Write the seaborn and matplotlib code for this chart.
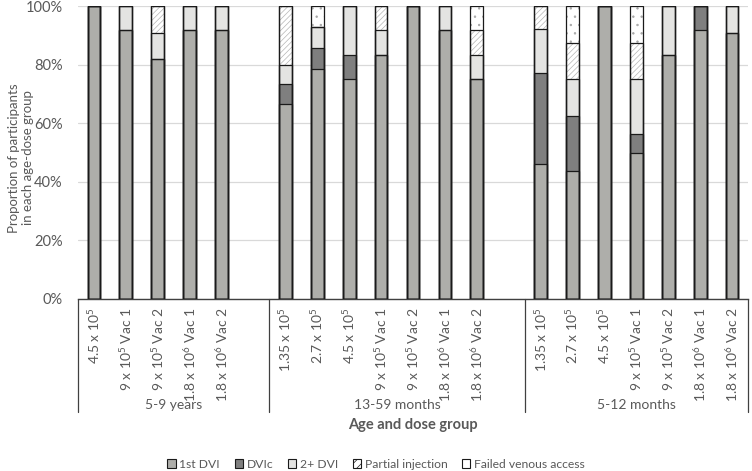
import matplotlib
matplotlib.use("Agg")
import matplotlib.pyplot as plt
import matplotlib.transforms as mtransforms
from matplotlib.patches import Patch
import numpy as np
import pandas as pd
import seaborn as sns

# ---------------- data ----------------
group_names = ["5-9 years", "13-59 months", "5-12 months"]
S5 = r"10$^{\mathregular{5}}$"
S6 = r"10$^{\mathregular{6}}$"
group_doses = [
    [f"4.5 x {S5}", f"9 x {S5} Vac 1", f"9 x {S5} Vac 2", f"1.8 x {S6} Vac 1", f"1.8 x {S6} Vac 2"],
    [f"1.35 x {S5}", f"2.7 x {S5}", f"4.5 x {S5}", f"9 x {S5} Vac 1", f"9 x {S5} Vac 2",
     f"1.8 x {S6} Vac 1", f"1.8 x {S6} Vac 2"],
    [f"1.35 x {S5}", f"2.7 x {S5}", f"4.5 x {S5}", f"9 x {S5} Vac 1", f"9 x {S5} Vac 2",
     f"1.8 x {S6} Vac 1", f"1.8 x {S6} Vac 2"],
]
series_names = ["1st DVI", "DVIc", "2+ DVI", "Partial injection", "Failed venous access"]
first_dvi = [100, 91.7, 81.8, 91.7, 91.7,
             66.7, 78.6, 75.0, 83.3, 100, 91.7, 75.0,
             46.2, 43.75, 100, 50.0, 83.3, 91.7, 90.9]
dvic = [0, 0, 0, 0, 0,
        6.7, 7.1, 8.3, 0, 0, 0, 0,
        30.8, 18.75, 0, 6.25, 0, 8.3, 0]
two_plus_dvi = [0, 8.3, 9.1, 8.3, 8.3,
                6.6, 7.1, 16.7, 8.4, 0, 8.3, 8.3,
                15.3, 12.5, 0, 18.75, 16.7, 0, 9.1]
partial_inj = [0, 0, 9.1, 0, 0,
               20.0, 0, 0, 8.3, 0, 0, 8.4,
               7.7, 12.5, 0, 12.5, 0, 0, 0]
failed_va = [0, 0, 0, 0, 0,
             0, 7.2, 0, 0, 0, 0, 8.3,
             0, 12.5, 0, 12.5, 0, 0, 0]

# ---------------- build table ----------------
rows, order, ticklabels, spans = [], [], [], []
k = 0
for gi, (gname, doses) in enumerate(zip(group_names, group_doses)):
    start = len(order)
    for d in doses:
        key = f"g{gi}_{k}"
        order.append(key)
        ticklabels.append(d)
        rows.append(dict(slot=key, s1=first_dvi[k], s2=dvic[k], s3=two_plus_dvi[k],
                         s4=partial_inj[k], s5=failed_va[k]))
        k += 1
    if gi < len(group_names) - 1:
        order.append(f"gap{gi}")
        ticklabels.append("")
    spans.append((start - 0.5, len(order) - 0.5))
df = pd.DataFrame(rows)
df["c1"] = df["s1"]
df["c2"] = df["c1"] + df["s2"]
df["c3"] = df["c2"] + df["s3"]
df["c4"] = df["c3"] + df["s4"]
df["c5"] = df["c4"] + df["s5"]

# ---------------- style ----------------
sns.set_theme(style="white")
plt.rcParams["font.family"] = ["Lato", "DejaVu Sans"]
plt.rcParams["mathtext.fontset"] = "custom"
plt.rcParams["mathtext.rm"] = "Lato"
plt.rcParams["mathtext.it"] = "Lato:italic"
plt.rcParams["mathtext.bf"] = "Lato:bold"
plt.rcParams["hatch.linewidth"] = 0.5
txt = "#595959"

fig = plt.figure(figsize=(7.52, 4.71), dpi=100)
W, H = 752, 471
x0, x1, ytop, ybot = 78, 748, 6, 299
ax = fig.add_axes([x0 / W, 1 - ybot / H, (x1 - x0) / W, (ybot - ytop) / H])

layers = [
    ("c5", "white", "..", "#A6A6A6"),
    ("c4", "white", "//////", "#B5B5B5"),
    ("c3", "#E4E4E2", None, "#E4E4E2"),
    ("c2", "#7F7F7F", None, "#7F7F7F"),
    ("c1", "#AEAEAA", None, "#AEAEAA"),
]
for col, fc, hatch, hc in layers:
    sns.barplot(data=df, x="slot", y=col, order=order, color=fc, saturation=1,
                width=0.4, errorbar=None, hatch=hatch, edgecolor=hc, linewidth=0,
                ax=ax, zorder=2)
for col, *_ in layers:
    sns.barplot(data=df, x="slot", y=col, order=order, color="black", fill=False,
                width=0.4, errorbar=None, edgecolor="#1A1A1A", linewidth=0.9,
                ax=ax, zorder=3)

ax.set_xlim(-0.5, len(order) - 0.5)
ax.set_ylim(0, 100)
ax.set_yticks(np.arange(0, 101, 20))
ax.set_yticklabels([f"{v}%" for v in range(0, 101, 20)], color=txt, fontsize=10.5)
ax.set_xticks(range(len(order)))
ax.set_xticklabels(ticklabels, rotation=90, color=txt, fontsize=10, va="top", ha="center")
ax.tick_params(axis="both", length=0)
ax.tick_params(axis="x", pad=6)
ax.tick_params(axis="y", pad=11)
ax.yaxis.grid(True, color="#D9D9D9", lw=0.9)
ax.set_axisbelow(True)
for s in ["left", "top", "right"]:
    ax.spines[s].set_visible(False)
ax.spines["bottom"].set_color("#404040")
ax.spines["bottom"].set_linewidth(1.0)
ax.set_xlabel("")
ax.set_ylabel("Proportion of participants\nin each age-dose group", color=txt,
              fontsize=9.5, linespacing=1.15)
ax.yaxis.set_label_coords(-(x0 - 34) / (x1 - x0), 1 - (158 - ytop) / (ybot - ytop))

# group separators and labels below the axis
trans = mtransforms.blended_transform_factory(ax.transData, ax.transAxes)
ydrop = -(412 - ybot) / (ybot - ytop)
bounds = sorted(set([s for s, e in spans] + [e for s, e in spans]))
for b in bounds:
    ax.plot([b, b], [0, ydrop], transform=trans, color="#404040", lw=0.9,
            clip_on=False, zorder=5)
ylab = -(405 - ybot) / (ybot - ytop)
for (s, e), g in zip(spans, group_names):
    ax.text((s + e) / 2, ylab, g, transform=trans, ha="center", va="center",
            color=txt, fontsize=10)

fig.text(((x0 + x1) / 2) / W, 1 - 425 / H, "Age and dose group", ha="center",
         va="center", color=txt, fontsize=10.5, fontweight="bold")

handles = [
    Patch(facecolor="#AEAEAA", edgecolor="#1A1A1A", lw=0.8),
    Patch(facecolor="#7F7F7F", edgecolor="#1A1A1A", lw=0.8),
    Patch(facecolor="#E4E4E2", edgecolor="#1A1A1A", lw=0.8),
    Patch(facecolor="white", edgecolor="#1A1A1A", hatch="////", lw=0.8),
    Patch(facecolor="white", edgecolor="#1A1A1A", lw=0.8),
]
fig.legend(handles, series_names, loc="center", bbox_to_anchor=(0.5, 1 - 464 / H),
           ncol=5, frameon=False, fontsize=8.7, handlelength=0.7, handleheight=0.7,
           handletextpad=0.3, columnspacing=1.2, labelcolor=txt)

fig.savefig("out.png", dpi=100)
